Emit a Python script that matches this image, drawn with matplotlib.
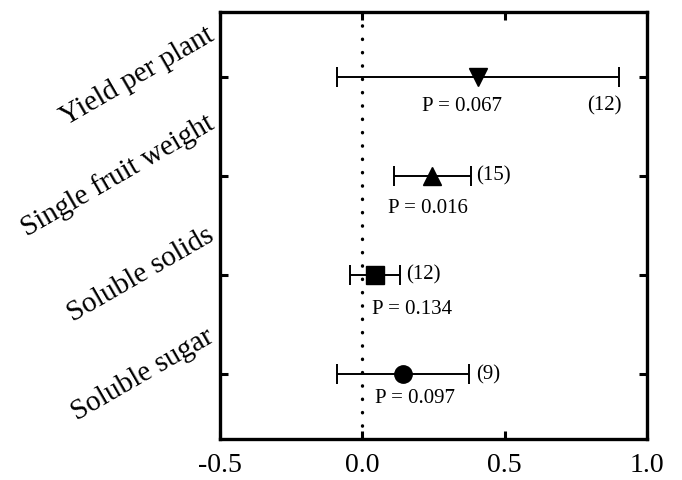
import matplotlib
matplotlib.use('Agg')
import matplotlib.pyplot as plt
import numpy as np

plt.rcParams['font.family'] = ['Liberation Serif', 'DejaVu Serif']

# data (bottom to top)
traits = ['Soluble sugar', 'Soluble solids', 'Single fruit weight', 'Yield per plant']
effect = [0.143, 0.046, 0.246, 0.406]
ci = [0.232, 0.088, 0.136, 0.496]
markers = ['o', 's', '^', 'v']
n_studies = ['(9)', '(12)', '(15)', '(12)']
p_text = ['P = 0.097', 'P = 0.134', 'P = 0.016', 'P = 0.067']

# label positions (x in data units, y offset from the row)
n_pos = [(0.40, 0.0, 'left'), (0.155, 0.0, 'left'), (0.40, 0.0, 'left'), (0.85, -0.30, 'center')]
p_pos = [(0.186, -0.24, 'center'), (0.173, -0.35, 'center'), (0.23, -0.33, 'center'), (0.35, -0.30, 'center')]

fig = plt.figure(figsize=(6.82, 4.8), dpi=100)
ax = fig.add_axes([0.3226, 0.0854, 0.6261, 0.8896])

y = np.arange(1, len(traits) + 1)
ax.axvline(0, color='black', linewidth=2.4, linestyle=(0, (0.1, 3.9)),
           dash_capstyle='round', zorder=1)

for i in range(len(traits)):
    ax.errorbar(effect[i], y[i], xerr=ci[i], fmt=markers[i], color='black',
                markersize=12.5, elinewidth=1.4, capsize=7, capthick=1.4, zorder=3)
    nx, ny, nha = n_pos[i]
    ax.text(nx, y[i] + ny, n_studies[i], ha=nha, va='center', fontsize=15)
    px, py, pha = p_pos[i]
    ax.text(px, y[i] + py, p_text[i], ha=pha, va='center', fontsize=15)

ax.set_xlim(-0.5, 1.0)
ax.set_ylim(0.35, 4.65)
ax.set_xticks([-0.5, 0.0, 0.5, 1.0])
ax.set_xticklabels(['-0.5', '0.0', '0.5', '1.0'])
ax.set_yticks(y)
ax.set_yticklabels(traits)
ax.tick_params(axis='both', direction='in', top=True, right=True,
               width=2.2, length=6, labelsize=20)
ax.tick_params(axis='y', labelsize=21, pad=1)
ax.tick_params(axis='x', pad=10)
plt.setp(ax.get_yticklabels(), rotation=30, va='center')
for s in ax.spines.values():
    s.set_linewidth(2.4)

plt.savefig('out.png', dpi=100)
